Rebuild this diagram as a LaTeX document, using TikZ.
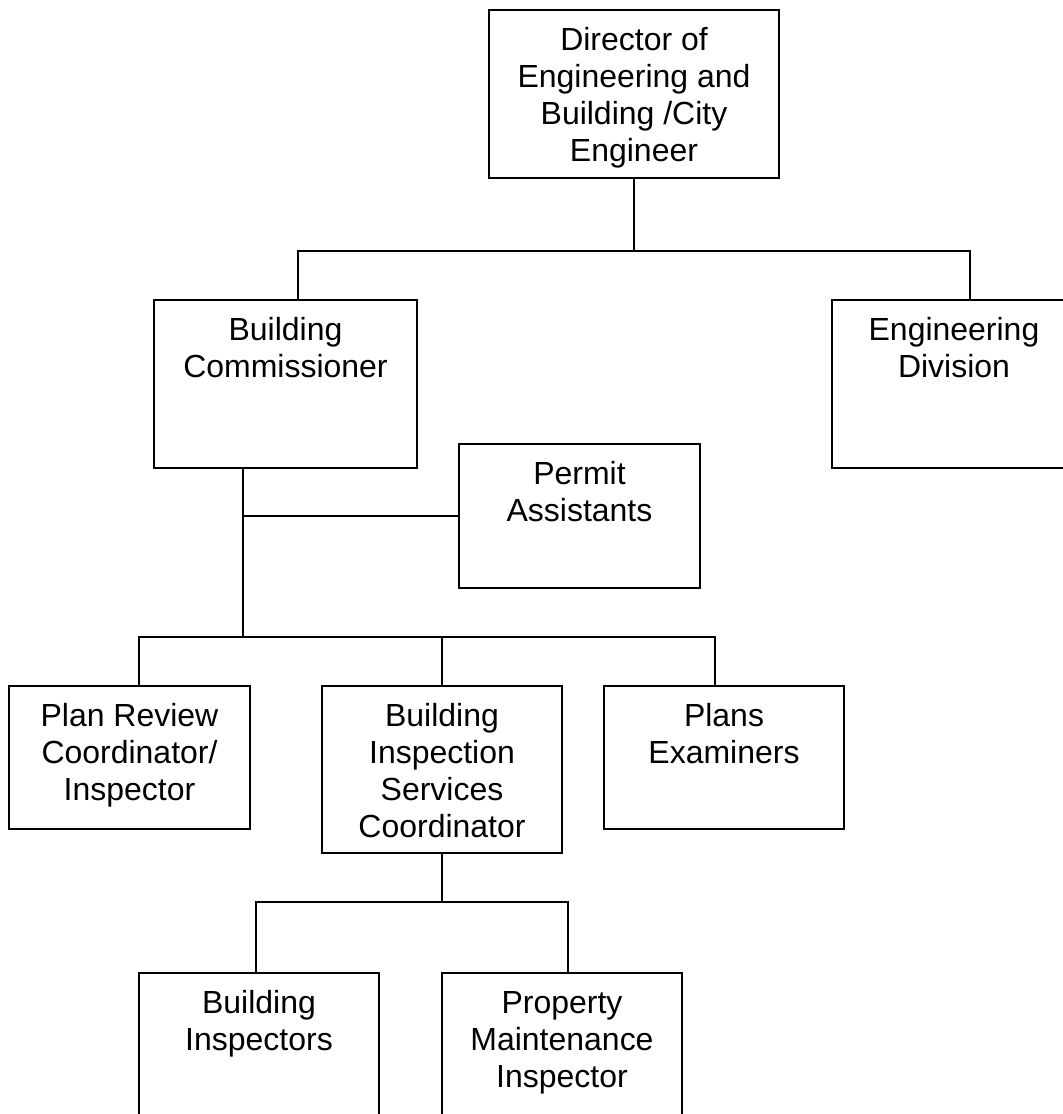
\documentclass[tikz,border=0pt]{standalone}
\usepackage{fontspec}
\setmainfont{Liberation Sans}
\begin{document}
\begin{tikzpicture}[x=1bp,y=-1bp,
  box/.style={draw=black, line width=1.6bp, inner sep=0pt},
  caption/.style={anchor=north, inner sep=0pt, align=center,
    font=\fontsize{32.1}{37.1}\selectfont},
  link/.style={draw=black, line width=1.6bp}]
\useasboundingbox (0,0) rectangle (1063,1114);

% boxes
\node[box, minimum width=290bp, minimum height=168bp] (dir)  at (634,94) {};
\node[box, minimum width=263bp, minimum height=168bp] (bc)   at (285.5,384) {};
\node[box, minimum width=244bp, minimum height=168bp] (ed)   at (954,384) {};
\node[box, minimum width=241bp, minimum height=144bp] (pa)   at (579.5,516) {};
\node[box, minimum width=241bp, minimum height=143bp] (pr)   at (129.5,757.5) {};
\node[box, minimum width=240bp, minimum height=167bp] (bisc) at (442,769.5) {};
\node[box, minimum width=240bp, minimum height=143bp] (pe)   at (724,757.5) {};
\node[box, minimum width=240bp, minimum height=168bp] (bi)   at (259,1057) {};
\node[box, minimum width=240bp, minimum height=168bp] (pmi)  at (562,1057) {};

% titles, set near the top of each box
\node[caption] (dirT)  at (634,25)    {\rule{0pt}{25bp}Director of\\Engineering and\\Building /City\\Engineer};
\node[caption] (bcT)   at (285.5,315) {\rule{0pt}{25bp}Building\\Commissioner};
\node[caption] (edT)   at (954,315)   {\rule{0pt}{25bp}Engineering\\Division};
\node[caption] (paT)   at (579.5,459) {\rule{0pt}{25bp}Permit\\Assistants};
\node[caption] (prT)   at (129.5,701) {\rule{0pt}{25bp}Plan Review\\Coordinator/\\Inspector};
\node[caption] (biscT) at (442,701)   {\rule{0pt}{25bp}Building\\Inspection\\Services\\Coordinator};
\node[caption] (peT)   at (724,701)   {\rule{0pt}{25bp}Plans\\Examiners};
\node[caption] (biT)   at (259,988)   {\rule{0pt}{25bp}Building\\Inspectors};
\node[caption] (pmiT)  at (562,988)   {\rule{0pt}{25bp}Property\\Maintenance\\Inspector};

% junction points of the connector buses
\coordinate (busL)  at (298,251);
\coordinate (busR)  at (970,251);
\coordinate (spine) at (243,637);
\coordinate (paJ)   at (243,516);
\coordinate (midL)  at (139,637);
\coordinate (midR)  at (715,637);
\coordinate (lowL)  at (256,902);
\coordinate (lowR)  at (568,902);

% connectors
\draw[link] (dir.south) -- (dir.south |- busL);
\draw[link] (bc.north -| busL) -- (busL) -- (busR) -- (ed.north -| busR);
\draw[link] (bc.south -| spine) -- (spine);
\draw[link] (paJ) -- (pa.west |- paJ);
\draw[link] (pr.north -| midL) -- (midL) -- (midR) -- (pe.north -| midR);
\draw[link] (bisc.north) -- (bisc.north |- midL);
\draw[link] (bisc.south) -- (bisc.south |- lowL);
\draw[link] (bi.north -| lowL) -- (lowL) -- (lowR) -- (pmi.north -| lowR);
\end{tikzpicture}
\end{document}
